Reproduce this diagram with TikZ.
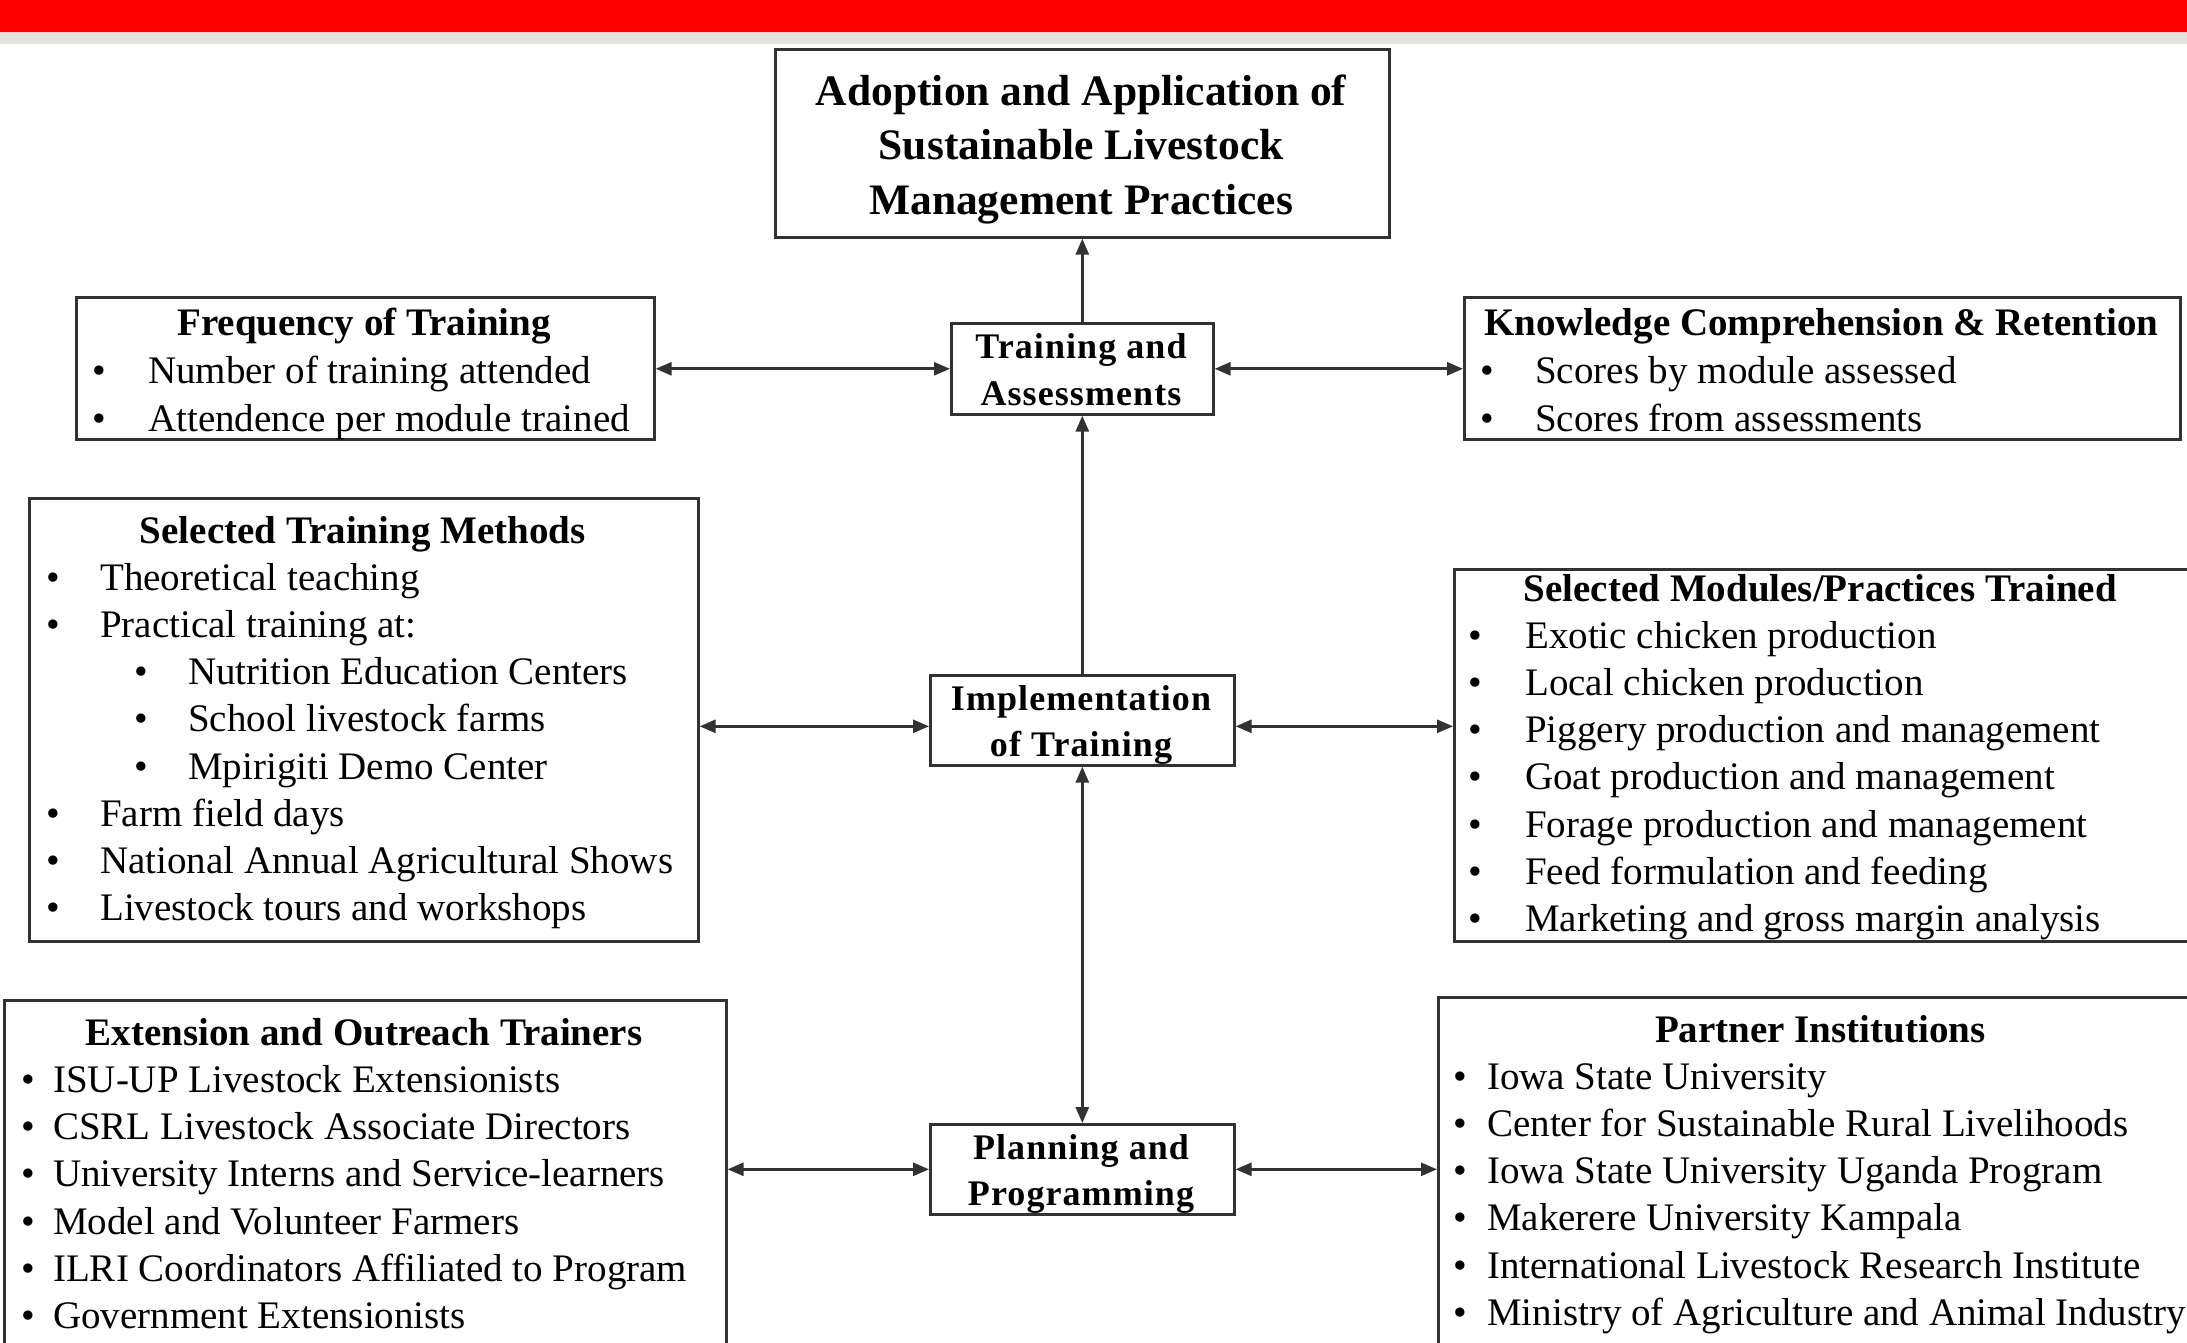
\documentclass[tikz,border=0pt]{standalone}
\usepackage{fontspec}
\setmainfont{Liberation Serif}
\usetikzlibrary{arrows.meta}
\definecolor{barred}{RGB}{255,0,0}
\definecolor{bargray}{RGB}{226,226,222}
\definecolor{ln}{RGB}{50,50,50}
\newcommand\bul[3]{\makebox[0pt][l]{\hspace*{#1pt}\textbullet}\hspace*{#2pt}#3}
\newcommand\ttl[2]{\makebox[#1pt][c]{\bfseries #2}}
\tikzset{
  box/.style={draw=ln, line width=2.6pt, inner sep=0pt, anchor=north west},
  txt/.style={inner sep=0pt, anchor=base west},
  ctxt/.style={inner sep=0pt, anchor=base},
  tip/.tip={Triangle[length=16pt,width=13pt]},
  arr/.style={draw=ln, line width=2.7pt, -tip},
  darr/.style={draw=ln, line width=2.7pt, tip-tip},
}
\begin{document}
\begin{tikzpicture}[x=1pt,y=-1pt]
\useasboundingbox (0,0) rectangle (2187,1342);
\clip (0,0) rectangle (2187,1342);
\fill[white] (0,0) rectangle (2187,1342);
\fill[barred] (0,0) rectangle (2187,32);
\fill[bargray] (0,32) rectangle (2187,44);

% boxes
\node[box, minimum width=614pt, minimum height=188pt] (title) at (774,48) {};
\node[box, minimum width=578pt, minimum height=142pt] (freq) at (75,296) {};
\node[box, minimum width=716pt, minimum height=142pt] (know) at (1463,296) {};
\node[box, minimum width=262pt, minimum height=91pt] (train) at (950,322) {};
\node[box, minimum width=669pt, minimum height=443pt] (meth) at (28,497) {};
\node[box, minimum width=745pt, minimum height=372pt] (mod) at (1453,568) {};
\node[box, minimum width=304pt, minimum height=90pt] (impl) at (929,674) {};
\node[box, minimum width=304pt, minimum height=90pt] (plan) at (929,1123) {};
\node[box, minimum width=722pt, minimum height=370pt] (ext) at (3,999) {};
\node[box, minimum width=775pt, minimum height=370pt] (part) at (1437,996) {};

% texts
\node[txt] (titletxt) at (774,105) {\parbox[t]{614pt}{\centering\fontsize{43.5}{54.5}\selectfont\bfseries
Adoption and Application of\\Sustainable Livestock\\Management Practices}};

\node[txt] (freqtxt) at (75,335) {\parbox[t]{578pt}{\fontsize{39}{48}\selectfont
\ttl{578}{Frequency of Training}\\
\bul{17}{73}{Number of training attended}\\
\bul{17}{73}{Attendence per module trained}}};

\node[txt] (knowtxt) at (1463,335) {\parbox[t]{716pt}{\fontsize{39}{48}\selectfont
\ttl{716}{Knowledge Comprehension \& Retention}\\
\bul{17}{72}{Scores by module assessed}\\
\bul{17}{72}{Scores from assessments}}};

\node[txt] (methtxt) at (28,543) {\parbox[t]{669pt}{\fontsize{39}{47.2}\selectfont
\ttl{669}{Selected Training Methods}\\
\bul{18}{72}{Theoretical teaching}\\
\bul{18}{72}{Practical training at:}\\
\bul{106}{160}{Nutrition Education Centers}\\
\bul{106}{160}{School livestock farms}\\
\bul{106}{160}{Mpirigiti Demo Center}\\
\bul{18}{72}{Farm field days}\\
\bul{18}{72}{National Annual Agricultural Shows}\\
\bul{18}{72}{Livestock tours and workshops}}};

\node[txt] (modtxt) at (1453,601) {\parbox[t]{734pt}{\fontsize{39}{47.2}\selectfont
\ttl{734}{Selected Modules/Practices Trained}\\
\bul{15}{72}{Exotic chicken production}\\
\bul{15}{72}{Local chicken production}\\
\bul{15}{72}{Piggery production and management}\\
\bul{15}{72}{Goat production and management}\\
\bul{15}{72}{Forage production and management}\\
\bul{15}{72}{Feed formulation and feeding}\\
\bul{15}{72}{Marketing and gross margin analysis}}};

\node[txt] (exttxt) at (3,1045) {\parbox[t]{722pt}{\fontsize{39}{47.3}\selectfont
\ttl{722}{Extension and Outreach Trainers}\\
\bul{18}{50}{ISU-UP Livestock Extensionists}\\
\bul{18}{50}{CSRL Livestock Associate Directors}\\
\bul{18}{50}{University Interns and Service-learners}\\
\bul{18}{50}{Model and Volunteer Farmers}\\
\bul{18}{50}{ILRI Coordinators Affiliated to Program}\\
\bul{18}{50}{Government Extensionists}}};

\node[txt] (parttxt) at (1437,1042) {\parbox[t]{766pt}{\fontsize{39}{47.2}\selectfont
\ttl{766}{Partner Institutions}\\
\bul{16}{50}{Iowa State University}\\
\bul{16}{50}{Center for Sustainable Rural Livelihoods}\\
\bul{16}{50}{Iowa State University Uganda Program}\\
\bul{16}{50}{Makerere University Kampala}\\
\bul{16}{50}{International Livestock Research Institute}\\
\bul{16}{50}{Ministry of Agriculture and Animal Industry}}};

\node[ctxt] (traintxt) at (1081,358) {\parbox[t]{300pt}{\centering\fontsize{36}{47}\selectfont\bfseries\addfontfeatures{LetterSpace=3}
Training and\\Assessments}};
\node[ctxt] (impltxt) at (1081,710) {\parbox[t]{300pt}{\centering\fontsize{36}{46}\selectfont\bfseries\addfontfeatures{LetterSpace=3}
Implementation\\of Training}};
\node[ctxt] (plantxt) at (1081,1159) {\parbox[t]{300pt}{\centering\fontsize{36}{46}\selectfont\bfseries\addfontfeatures{LetterSpace=3}
Planning and\\Programming}};

% connectors
\draw[arr] (train.north) -- (title.south);
\draw[darr] (train.west -| freq.east) -- (train.west);
\draw[darr] (train.east) -- (train.east -| know.west);
\draw[arr] (impl.north) -- (train.south);
\draw[darr] (plan.north) -- (impl.south);
\draw[darr] ([yshift=-6pt]impl.west -| meth.east) -- ([yshift=-6pt]impl.west);
\draw[darr] ([yshift=-6pt]impl.east) -- ([yshift=-6pt]impl.east -| mod.west);
\draw[darr] (plan.west -| ext.east) -- (plan.west);
\draw[darr] (plan.east) -- (plan.east -| part.west);
\end{tikzpicture}
\end{document}
